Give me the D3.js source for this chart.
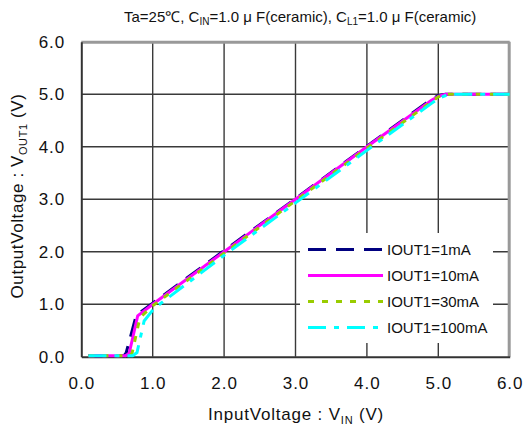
<!DOCTYPE html>
<html>
<head>
<meta charset="utf-8">
<script src="https://cdn.jsdelivr.net/npm/d3@7"></script>
<style>
  body { margin: 0; background: #fff; }
  svg { display: block; }
  text { font-family: "Liberation Sans", Arial, sans-serif; fill: #111; }
</style>
</head>
<body>
<svg id="chart" width="523" height="430"></svg>
<script>
// Output voltage vs input voltage for several load currents
const seriesNames = ["IOUT1=1mA", "IOUT1=10mA", "IOUT1=30mA", "IOUT1=100mA"];
const seriesColors = ["#000080", "#ff00ff", "#99cc00", "#00ffff"];
const seriesDash = ["18,10", null, "6,8", "18,8,5,8"];

const vin1mA   = [0.10, 0.60, 0.63, 0.77, 1.00, 2.00, 3.00, 4.00, 4.90, 5.00, 5.10, 6.00];
const vout1mA  = [0.02, 0.02, 0.08, 0.79, 1.02, 2.02, 3.01, 4.01, 4.90, 4.97, 5.00, 5.00];
const vin10mA  = [0.10, 0.62, 0.67, 0.79, 1.00, 2.00, 3.00, 4.00, 4.90, 5.00, 5.10, 6.00];
const vout10mA = [0.02, 0.02, 0.06, 0.78, 1.00, 2.00, 3.00, 4.00, 4.88, 4.96, 5.00, 5.00];
const vin30mA  = [0.10, 0.65, 0.71, 0.82, 1.00, 2.00, 3.00, 4.00, 4.90, 5.00, 5.12, 6.00];
const vout30mA = [0.02, 0.02, 0.06, 0.74, 0.97, 1.97, 2.97, 3.97, 4.85, 4.95, 5.00, 5.00];
const vin100mA = [0.10, 0.72, 0.78, 0.88, 1.02, 2.00, 3.00, 4.00, 4.90, 5.00, 5.15, 6.00];
const vout100mA= [0.02, 0.02, 0.08, 0.68, 0.92, 1.93, 2.93, 3.93, 4.82, 4.92, 5.00, 5.00];

const seriesX = [vin1mA, vin10mA, vin30mA, vin100mA];
const seriesY = [vout1mA, vout10mA, vout30mA, vout100mA];

const xTicks = [0, 1, 2, 3, 4, 5, 6];
const yTicks = [0, 1, 2, 3, 4, 5, 6];

const svg = d3.select("#chart");
const plotL = 81.3, plotR = 509.7, plotT = 41.7, plotB = 356.7;

const x = d3.scaleLinear().domain([0, 6]).range([plotL, plotR]);
const y = d3.scaleLinear().domain([0, 6]).range([plotB, plotT]);

// title with subscripts
const title = svg.append("text").attr("x", 124).attr("y", 22).style("font-size", "15px");
title.append("tspan").text("Ta=25\u2103, C");
title.append("tspan").attr("dy", 3).style("font-size", "10px").text("IN");
title.append("tspan").attr("dy", -3).text("=1.0 \u03bc F(ceramic), C");
title.append("tspan").attr("dy", 3).style("font-size", "10px").text("L1");
title.append("tspan").attr("dy", -3).text("=1.0 \u03bc F(ceramic)");

// grid
const grid = svg.append("g");
grid.selectAll("line.v").data(xTicks.slice(1, -1)).join("line")
  .attr("x1", d => x(d)).attr("x2", d => x(d))
  .attr("y1", plotT).attr("y2", plotB)
  .attr("stroke", "#3a3a3a").attr("stroke-width", 1.4);
grid.selectAll("line.h").data(yTicks.slice(1, -1)).join("line")
  .attr("y1", d => y(d)).attr("y2", d => y(d))
  .attr("x1", plotL).attr("x2", plotR)
  .attr("stroke", "#3a3a3a").attr("stroke-width", 1.4);

// frame: grey top/right, dark axes left/bottom
svg.append("line").attr("x1", plotL).attr("x2", plotR).attr("y1", plotT + 0.5).attr("y2", plotT + 0.5)
  .attr("stroke", "#999").attr("stroke-width", 3);
svg.append("line").attr("x1", plotR - 0.5).attr("x2", plotR - 0.5).attr("y1", plotT).attr("y2", plotB)
  .attr("stroke", "#999").attr("stroke-width", 3);

// axes with tick labels
const xAxis = d3.axisBottom(x).tickValues(xTicks).tickFormat(d3.format(".1f")).tickSize(0).tickPadding(20);
const gx = svg.append("g").attr("transform", `translate(0,${plotB})`).call(xAxis);
gx.select(".domain").attr("stroke", "#333").attr("stroke-width", 2);
gx.selectAll("text").style("font-size", "17px").style("letter-spacing", "1px")
  .style("font-family", "'Liberation Sans', Arial, sans-serif").attr("fill", "#111");

const yAxis = d3.axisLeft(y).tickValues(yTicks).tickFormat(d3.format(".1f")).tickSize(0).tickPadding(16);
const gy = svg.append("g").attr("transform", `translate(${plotL},0)`).call(yAxis);
gy.select(".domain").attr("stroke", "#333").attr("stroke-width", 2);
gy.selectAll("text").style("font-size", "17px").style("letter-spacing", "1px")
  .style("font-family", "'Liberation Sans', Arial, sans-serif").attr("fill", "#111");

// axis titles
const xt = svg.append("text").attr("x", 296).attr("y", 420).attr("text-anchor", "middle")
  .style("font-size", "17px").style("letter-spacing", "0.8px");
xt.append("tspan").text("InputVoltage : V");
xt.append("tspan").attr("dy", 4).style("font-size", "11px").text("IN");
xt.append("tspan").attr("dy", -4).text(" (V)");

const yt = svg.append("text").attr("transform", "translate(23,196) rotate(-90)").attr("text-anchor", "middle")
  .style("font-size", "17px").style("letter-spacing", "0.6px");
yt.append("tspan").text("OutputVoltage : V");
yt.append("tspan").attr("dy", 4).style("font-size", "11px").text("OUT1");
yt.append("tspan").attr("dy", -4).text(" (V)");

// curves
const line = d3.line().x(d => x(d[0])).y(d => y(d[1]));
seriesNames.forEach((name, i) => {
  const pts = seriesX[i].map((v, j) => [v, seriesY[i][j]]);
  svg.append("path").datum(pts)
    .attr("d", line)
    .attr("fill", "none")
    .attr("stroke", seriesColors[i])
    .attr("stroke-width", 3)
    .attr("stroke-dasharray", seriesDash[i]);
});

// legend
const lg = svg.append("g");
lg.append("rect").attr("x", 300).attr("y", 233).attr("width", 193).attr("height", 110).attr("fill", "#fff");
seriesNames.forEach((name, i) => {
  const ly = 249.5 + i * 26;
  lg.append("line").attr("x1", 308).attr("x2", 383).attr("y1", ly).attr("y2", ly)
    .attr("stroke", seriesColors[i]).attr("stroke-width", 3)
    .attr("stroke-dasharray", seriesDash[i]);
  lg.append("text").attr("x", 387).attr("y", ly + 5.5).style("font-size", "15px").text(name);
});
</script>
</body>
</html>
